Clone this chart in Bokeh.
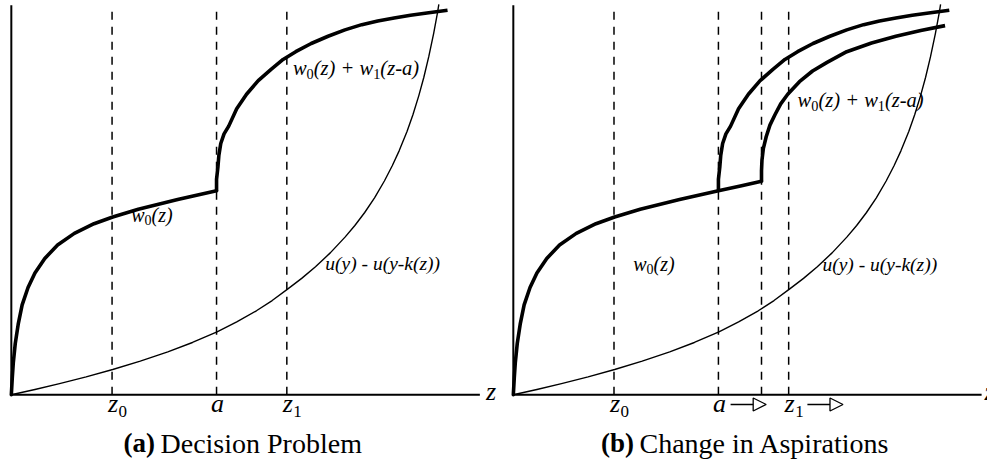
from bokeh.plotting import figure
from bokeh.layouts import row
from bokeh.models import Range1d, Arrow, NormalHead
from bokeh.core.properties import value
from bokeh.embed import file_html
from bokeh.resources import INLINE

# ---------------- data (z on horizontal axis, utility on vertical) ----------------
z0_pos = 21.5
a_pos = 43.8
a_new_pos = 53.0
z1_pos = 58.8

tick_pos_a = [z0_pos, a_pos, z1_pos]
tick_main = ["z", "a", "z"]
tick_sub = ["0", "", "1"]
tick_pos_b = [z0_pos, a_pos, z1_pos]

# w0(z): concave curve from origin up to the aspiration level a
w0_z = [0, 0.21, 0.42, 0.84, 1.47, 2.31, 3.57, 5.04, 7.14, 9.87, 13.45, 17.65, 21.64, 27.1, 35.5, 43.8]
w0_v = [0, 4.47, 8.19, 13.15, 18.11, 23.08, 27.54, 31.27, 34.99, 38.46, 41.44, 43.92, 45.66, 47.64, 50.12, 52.36]
# continuation of w0(z) up to the new aspiration level (panel b)
w0_ext_z = [43.8, 48.5, 53.0]
w0_ext_v = [52.36, 53.6, 54.8]

# w0(z) + w1(z-a): jumps steeply after a
up_z = [43.8, 43.8, 44.1, 44.3, 44.7, 45.4, 46.4, 48.1, 50.2, 52.7, 55.5, 58.0, 60.7, 64.0, 67.6, 71.2, 74.8, 78.2, 81.7, 85.2, 88.7, 93.1]
up_v = [52.36, 55.33, 58.56, 61.54, 64.52, 67.0, 68.98, 73.45, 77.17, 80.65, 83.62, 86.1, 88.09, 90.2, 92.06, 93.7, 95.04, 96.0, 96.77, 97.45, 98.01, 98.76]

# w0(z) + w1(z-a') after the aspiration shift (panel b)
lo_z = [53.0, 53.0, 53.1, 53.4, 54.0, 54.8, 55.9, 57.1, 58.6, 61.1, 63.9, 67.0, 71.2, 76.5, 81.7, 87.0, 92.2]
lo_v = [54.84, 57.57, 60.30, 63.28, 66.25, 69.23, 71.96, 74.69, 77.17, 80.40, 83.13, 85.36, 88.09, 90.32, 92.06, 93.55, 94.79]

# u(y) - u(y-k(z)): convex cost curve
u_z = [0, 5.04, 10.29, 15.97, 21.64, 27.52, 33.40, 38.66, 43.91, 48.11, 52.31, 55.67, 59.03, 61.97,
       64.92, 68.07, 71.22, 73.32, 75.42, 77.52, 79.62, 81.30, 82.77, 84.45, 85.71, 86.97, 88.03,
       89.08, 90.13, 90.97, 91.24]
u_v = [0, 1.34, 2.85, 4.57, 6.48, 8.64, 10.99, 13.42, 16.15, 18.69, 21.56, 24.19, 27.17, 29.88,
       32.85, 36.43, 40.47, 43.47, 46.80, 50.57, 54.89, 58.81, 62.63, 67.59, 71.91, 76.82, 81.46,
       86.75, 92.75, 98.21, 100.25]

axis_z = [0, 0, 100]
axis_v = [100, 0, 0]
dash_top = 98.8

# ---------------- styling helpers ----------------
SERIF = value("Liberation Serif")
IT_W = {'w': 667, 'z': 389, 'a': 500, 'u': 500, 'y': 444, 'k': 444, '(': 333, ')': 333,
        '-': 333, '+': 675, ' ': 250}
RG_W = {'0': 500, '1': 500}
Y_RANGE = (-16.63, 101.24)


def text_width(s, size, table):
    return sum(table.get(c, 500) for c in s) / 1000.0 * size


def math_label(p, x, y, parts, size):
    off = 0.0
    for txt, kind in parts:
        if kind == "sub":
            fs = size * 0.7
            p.text(x=[x], y=[y], text=[txt], text_font=SERIF, text_font_style="normal",
                   text_font_size=f"{fs:.1f}px", text_baseline="middle", text_align="left",
                   x_offset=off, y_offset=size * 0.28, text_color="black")
            off += text_width(txt, fs, RG_W)
        else:
            p.text(x=[x], y=[y], text=[txt], text_font=SERIF, text_font_style="italic",
                   text_font_size=f"{size}px", text_baseline="middle", text_align="left",
                   x_offset=off, y_offset=0, text_color="black")
            off += text_width(txt, size, IT_W)


def make_panel(width, xr):
    p = figure(width=width, height=459, x_range=Range1d(*xr), y_range=Range1d(*Y_RANGE),
               x_axis_type=None, y_axis_type=None, toolbar_location=None,
               output_backend="svg", min_border=0, outline_line_color=None,
               background_fill_color="white", border_fill_color="white")
    p.grid.visible = False
    return p


def draw_common(p, ticks, zlabel_x):
    for t in ticks:
        p.line([t, t], [0, dash_top], line_color="black", line_width=1.5, line_dash="8 7")
    p.line(axis_z, axis_v, line_color="black", line_width=2, line_join="miter")
    p.line(u_z, u_v, line_color="black", line_width=1.4, line_join="round")
    tick_y = -2.2
    for t, m, s in zip(ticks, tick_main, tick_sub):
        p.text(x=[t], y=[tick_y], text=[m], text_font=SERIF, text_font_style="italic",
               text_font_size="26px", text_baseline="middle", text_align="center",
               x_offset=1, text_color="black")
        if s:
            p.text(x=[t], y=[tick_y], text=[s], text_font=SERIF, text_font_style="normal",
                   text_font_size="17px", text_baseline="middle", text_align="left",
                   x_offset=6.5, y_offset=8.5, text_color="black")
    p.text(x=[zlabel_x], y=[0.95], text=["z"], text_font=SERIF, text_font_style="italic",
           text_font_size="26px", text_baseline="middle", text_align="left", text_color="black")


def caption(p, x, tag, title):
    p.text(x=[x], y=[-12.5], text=[tag], text_font=SERIF, text_font_style="bold",
           text_font_size="27px", text_baseline="middle", text_align="right",
           x_offset=-2.5, text_color="black")
    p.text(x=[x], y=[-12.5], text=[title], text_font=SERIF, text_font_style="normal",
           text_font_size="28px", text_baseline="middle", text_align="left",
           x_offset=3, text_color="black")


W0_PARTS = [("w", "it"), ("0", "sub"), ("(z)", "it")]
W01_PARTS = [("w", "it"), ("0", "sub"), ("(z) + ", "it"), ("w", "it"), ("1", "sub"), ("(z-a)", "it")]
U_PARTS = [("u(y) - u(y-k(z))", "it")]

# ---------------- panel (a) ----------------
pa = make_panel(502, (-2.31, 104.83))
draw_common(pa, tick_pos_a, 101.3)
pa.line(w0_z, w0_v, line_color="black", line_width=3.6, line_join="round", line_cap="round")
pa.line(up_z, up_v, line_color="black", line_width=3.6, line_join="round", line_cap="butt")
math_label(pa, 25.6, 46.2, W0_PARTS, 20)
math_label(pa, 60.1, 83.9, W01_PARTS, 20.5)
math_label(pa, 67.0, 33.7, U_PARTS, 19.5)
caption(pa, 31.2, "(a)", "Decision Problem")

# ---------------- panel (b) ----------------
pb = make_panel(485, (-2.31, 101.26))
draw_common(pb, tick_pos_b + [a_new_pos], 100.6)
pb.line(w0_z + w0_ext_z[1:], w0_v + w0_ext_v[1:], line_color="black", line_width=3.6,
        line_join="round", line_cap="round")
pb.line(up_z, up_v, line_color="black", line_width=3.6, line_join="round", line_cap="butt")
pb.line(lo_z, lo_v, line_color="black", line_width=3.6, line_join="round", line_cap="butt")
math_label(pb, 25.6, 33.7, W0_PARTS, 20)
math_label(pb, 60.7, 75.7, W01_PARTS, 20.5)
math_label(pb, 66.0, 33.5, U_PARTS, 19.5)
caption(pb, 26.3, "(b)", "Change in Aspirations")

arrow_v = -2.5
arrow_len = 7.6
for start in (a_pos + 2.6, z1_pos + 4.0):
    pb.add_layout(Arrow(end=NormalHead(size=13, fill_color="white", line_color="black", line_width=1.3),
                        x_start=start, y_start=arrow_v, x_end=start + arrow_len, y_end=arrow_v,
                        line_color="black", line_width=1.5))

layout = row(pa, pb)
open("out.html", "w").write(file_html(layout, INLINE))
